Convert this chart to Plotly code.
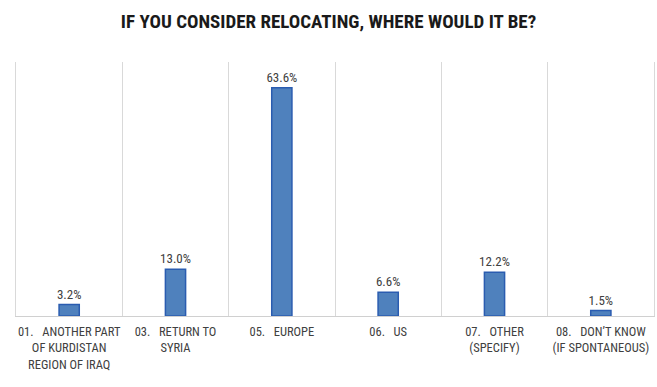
import plotly.graph_objects as go

categories = [
    "01.   ANOTHER PART<br>OF KURDISTAN<br>REGION OF IRAQ",
    "03.   RETURN TO<br>SYRIA",
    "05.   EUROPE",
    "06.   US",
    "07.   OTHER<br>(SPECIFY)",
    "08.   DON\u2019T KNOW<br>(IF SPONTANEOUS)",
]
values = [3.2, 13.0, 63.6, 6.6, 12.2, 1.5]
labels = [f"{v:.1f}%" for v in values]

font_family = "Liberation Sans Narrow, Roboto Condensed, Arial Narrow, sans-serif"

fig = go.Figure(
    go.Bar(
        x=categories,
        y=values,
        text=labels,
        textposition="outside",
        constraintext="none",
        cliponaxis=False,
        width=0.19,
        marker=dict(color="#4F81BD", line=dict(color="#2A5CB0", width=1.5)),
        textfont=dict(family=font_family, size=13, color="#404040"),
    )
)

fig.update_layout(
    width=657,
    height=387,
    margin=dict(l=16, r=3, t=62, b=71),
    paper_bgcolor="white",
    plot_bgcolor="white",
    showlegend=False,
    title=dict(
        text="<b>IF YOU CONSIDER RELOCATING, WHERE WOULD IT BE?</b>",
        x=0.5,
        xanchor="center",
        y=0.945,
        yanchor="middle",
        font=dict(family=font_family, size=19, color="#1a1a1a"),
    ),
    bargap=0.81,
)

fig.update_xaxes(
    tickson="boundaries",
    tickangle=0,
    automargin=False,
    ticklabelstandoff=4,
    showgrid=True,
    gridcolor="#D9D9D9",
    gridwidth=1,
    showline=True,
    linecolor="#D0D0D0",
    ticks="",
    tickfont=dict(family=font_family, size=12.5, color="#404040"),
)
fig.update_yaxes(
    range=[0, 70.8],
    showticklabels=False,
    ticks="",
    showgrid=False,
    zeroline=False,
    showline=True,
    linecolor="#D9D9D9",
    mirror=True,
)

fig.write_html("out.html")
